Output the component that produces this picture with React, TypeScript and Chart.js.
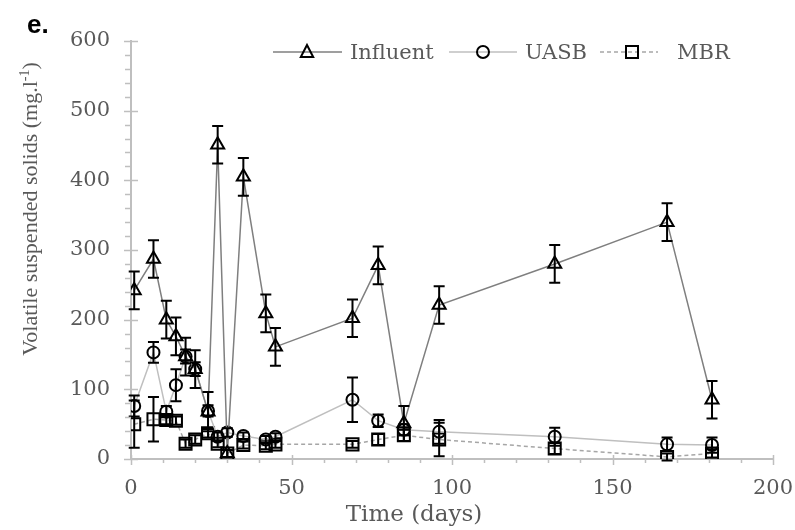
import React, { useEffect, useRef } from 'react';
import { Chart, registerables } from 'chart.js';

Chart.register(...registerables);

// ---- data ----
const days = [1, 7, 11, 14, 17, 20, 24, 27, 30, 35, 42, 45, 69, 77, 85, 96, 132, 167, 181];
const influent = [242, 287, 200, 176, 147, 129, 68, 451, 8, 405, 209, 161, 202, 278, 51, 221, 280, 340, 85];
const influentErr = [27, 27, 27, 27, 27, 27, 28, 27, 5, 27, 27, 27, 27, 27, 25, 27, 27, 27, 27];
const uasb = [76, 153, 68, 106, 147, 129, 69, 32, 38, 33, 28, 32, 85, 55, 42, 39, 32, 21, 20];
const uasbErr = [15, 15, 8, 23, 10, 10, 8, 6, 6, 5, 5, 5, 32, 9, 8, 17, 13, 10, 11];
const mbr = [50, 57, 56, 55, 22, 28, 37, 22, 8, 20, 19, 21, 21, 28, 34, 28, 15, 3, 8];
const mbrErr = [34, 32, 6, 6, 6, 6, 6, 5, 5, 5, 5, 5, 5, 8, 8, 24, 8, 5, 6];

const seriesNames = ['Influent', 'UASB', 'MBR'];
const xTitle = 'Time (days)';
const yTitleMain = 'Volatile suspended solids (mg.l';
const yTitleSup = '-1';
const yTitleEnd = ')';
const panelLabel = 'e.';

const SERIF = "'DejaVu Serif'";
const TEXT = '#595959';
const AXIS = '#bfbfbf';

function drawMarker(ctx: CanvasRenderingContext2D, style: string, x: number, y: number) {
  ctx.save();
  ctx.strokeStyle = '#000';
  ctx.lineWidth = 2;
  ctx.setLineDash([]);
  ctx.beginPath();
  if (style === 'triangle') {
    ctx.moveTo(x, y - 7);
    ctx.lineTo(x + 6.2, y + 5);
    ctx.lineTo(x - 6.2, y + 5);
    ctx.closePath();
  } else if (style === 'circle') {
    ctx.arc(x, y, 6, 0, Math.PI * 2);
  } else {
    ctx.rect(x - 6, y - 6, 12, 12);
  }
  ctx.stroke();
  ctx.restore();
}

const errorBarPlugin = {
  id: 'errorBars',
  afterDatasetsDraw(chart: any) {
    const ctx = chart.ctx as CanvasRenderingContext2D;
    const ys = chart.scales.y;
    ctx.save();
    ctx.strokeStyle = '#000';
    ctx.lineWidth = 2;
    chart.data.datasets.forEach((ds: any, i: number) => {
      const meta = chart.getDatasetMeta(i);
      meta.data.forEach((pt: any, j: number) => {
        const v = ds.data[j].y;
        const e = ds.errors[j];
        const top = ys.getPixelForValue(v + e);
        const bot = ys.getPixelForValue(v - e);
        const x = pt.x;
        ctx.beginPath();
        ctx.moveTo(x, top);
        ctx.lineTo(x, bot);
        ctx.moveTo(x - 5.5, top);
        ctx.lineTo(x + 5.5, top);
        ctx.moveTo(x - 5.5, bot);
        ctx.lineTo(x + 5.5, bot);
        ctx.stroke();
      });
    });
    ctx.restore();
  },
};

const decorPlugin = {
  id: 'decor',
  afterDraw(chart: any) {
    const ctx = chart.ctx as CanvasRenderingContext2D;
    const xs = chart.scales.x;
    const ys = chart.scales.y;
    const left = xs.left;
    const bottom = ys.bottom;
    ctx.save();
    // tick marks
    ctx.strokeStyle = AXIS;
    ctx.lineWidth = 1.5;
    ctx.beginPath();
    for (let v = 0; v <= 600; v += 20) {
      const y = Math.round(ys.getPixelForValue(v)) + 0.5;
      if (v % 100 === 0) {
        ctx.moveTo(left - 7, y);
        ctx.lineTo(left + 7, y);
      } else {
        ctx.moveTo(left - 6, y);
        ctx.lineTo(left, y);
      }
    }
    for (let v = 0; v <= 200; v += 10) {
      const x = Math.round(xs.getPixelForValue(v)) + 0.5;
      if (v % 50 === 0) {
        ctx.moveTo(x, bottom - 4);
        ctx.lineTo(x, bottom + 6);
      } else {
        ctx.moveTo(x, bottom);
        ctx.lineTo(x, bottom + 4);
      }
    }
    ctx.stroke();

    // x title
    ctx.fillStyle = TEXT;
    ctx.font = `23px ${SERIF}`;
    ctx.textAlign = 'center';
    ctx.textBaseline = 'alphabetic';
    ctx.fillText(xTitle, 414, 521);

    // y title rotated
    const mainFont = `22px 'Liberation Serif'`;
    const supFont = `14px 'Liberation Serif'`;
    ctx.font = mainFont;
    const w1 = ctx.measureText(yTitleMain).width;
    const w3 = ctx.measureText(yTitleEnd).width;
    ctx.font = supFont;
    const w2 = ctx.measureText(yTitleSup).width;
    const total = w1 + w2 + w3;
    ctx.save();
    ctx.translate(37, 209);
    ctx.rotate(-Math.PI / 2);
    ctx.textAlign = 'left';
    let cx = -total / 2;
    ctx.font = mainFont;
    ctx.fillText(yTitleMain, cx, 0);
    cx += w1;
    ctx.font = supFont;
    ctx.fillText(yTitleSup, cx, -8);
    cx += w2;
    ctx.font = mainFont;
    ctx.fillText(yTitleEnd, cx, 0);
    ctx.restore();

    // panel label
    ctx.fillStyle = '#000';
    ctx.font = `bold 26px 'Liberation Sans'`;
    ctx.textAlign = 'left';
    ctx.fillText(panelLabel, 27, 33);

    // legend
    const items = [
      { name: seriesNames[0], x0: 273, x1: 342, mx: 307, tx: 350, color: '#7f7f7f', dash: [] as number[], style: 'triangle' },
      { name: seriesNames[1], x0: 449, x1: 517, mx: 483, tx: 525, color: '#bfbfbf', dash: [] as number[], style: 'circle' },
      { name: seriesNames[2], x0: 600, x1: 658, mx: 632, tx: 677, color: '#a6a6a6', dash: [4, 3], style: 'rect' },
    ];
    const ly = 52;
    items.forEach((it) => {
      ctx.save();
      ctx.strokeStyle = it.color;
      ctx.lineWidth = 1.5;
      ctx.setLineDash(it.dash);
      ctx.beginPath();
      ctx.moveTo(it.x0, ly);
      ctx.lineTo(it.x1, ly);
      ctx.stroke();
      ctx.restore();
      drawMarker(ctx, it.style, it.mx, ly);
      ctx.fillStyle = TEXT;
      ctx.font = `21px ${SERIF}`;
      ctx.textAlign = 'left';
      ctx.textBaseline = 'alphabetic';
      ctx.fillText(it.name, it.tx, 59);
    });
    ctx.restore();
  },
};

function pts(vals: number[]) {
  return days.map((d, i) => ({ x: d, y: vals[i] }));
}

export default function App() {
  const ref = useRef<HTMLCanvasElement | null>(null);
  useEffect(() => {
    document.body.style.margin = '0';
    const canvas = ref.current;
    if (!canvas) return;
    const common = {
      borderWidth: 1.5,
      pointBorderColor: '#000',
      pointBackgroundColor: 'rgba(0,0,0,0)',
      pointBorderWidth: 2,
      tension: 0,
      fill: false,
    };
    const chart = new Chart(canvas, {
      type: 'line',
      data: {
        datasets: [
          { ...common, label: seriesNames[0], data: pts(influent), errors: influentErr, borderColor: '#7f7f7f', pointStyle: 'triangle', pointRadius: 7.5 } as any,
          { ...common, label: seriesNames[1], data: pts(uasb), errors: uasbErr, borderColor: '#bfbfbf', pointStyle: 'circle', pointRadius: 6 } as any,
          { ...common, label: seriesNames[2], data: pts(mbr), errors: mbrErr, borderColor: '#a6a6a6', borderDash: [4, 3], pointStyle: 'rect', pointRadius: 8.5 } as any,
        ],
      },
      options: {
        responsive: false,
        animation: false,
        devicePixelRatio: 1,
        layout: { padding: { top: 41, right: 22, left: 0, bottom: 0 } },
        plugins: { legend: { display: false }, tooltip: { enabled: false } },
        scales: {
          x: {
            type: 'linear',
            min: 0,
            max: 200,
            grid: { display: false, drawTicks: false },
            border: { display: true, color: AXIS, width: 2 },
            ticks: { stepSize: 50, color: TEXT, font: { family: 'DejaVu Serif', size: 21 }, padding: 17, maxRotation: 0 },
            afterFit: (s: any) => { s.height = 71; s.paddingRight = 0; s.paddingLeft = 0; },
          },
          y: {
            min: 0,
            max: 600,
            grid: { display: false, drawTicks: false },
            border: { display: true, color: AXIS, width: 2 },
            ticks: { stepSize: 100, color: TEXT, font: { family: 'DejaVu Serif', size: 21 }, padding: 21 },
            afterFit: (s: any) => { s.width = 131; s.paddingTop = 0; s.paddingBottom = 0; },
          },
        },
      },
      plugins: [errorBarPlugin, decorPlugin],
    } as any);
    return () => chart.destroy();
  }, []);
  return <canvas ref={ref} width={795} height={530} style={{ display: 'block', width: 795, height: 530 }} />;
}
